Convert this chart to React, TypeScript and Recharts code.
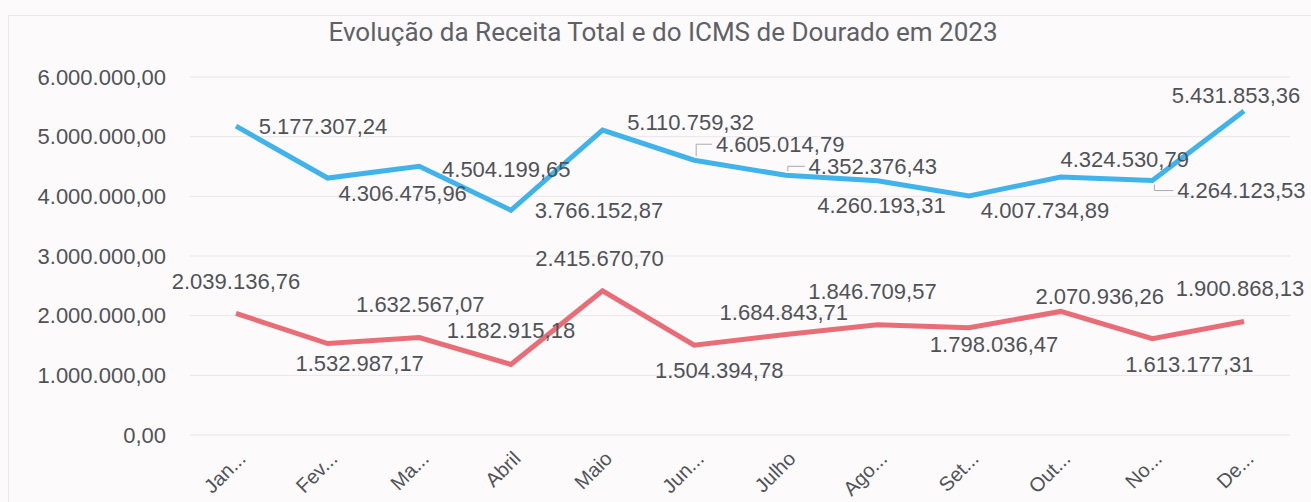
import React from 'react';
import { LineChart, Line, XAxis, YAxis, CartesianGrid, LabelList } from 'recharts';

const months = ['Jan...', 'Fev...', 'Ma...', 'Abril', 'Maio', 'Jun...', 'Julho', 'Ago...', 'Set...', 'Out...', 'No...', 'De...'];

const receitaTotal = [
  5177307.24, 4306475.96, 4504199.65, 3766152.87, 5110759.32, 4605014.79,
  4352376.43, 4260193.31, 4007734.89, 4324530.79, 4264123.53, 5431853.36,
];

const icms = [
  2039136.76, 1532987.17, 1632567.07, 1182915.18, 2415670.7, 1504394.78,
  1684843.71, 1846709.57, 1798036.47, 2070936.26, 1613177.31, 1900868.13,
];

const yTicks = [0, 1000000, 2000000, 3000000, 4000000, 5000000, 6000000];

// label placement (offset of label centre from the point), as in the original
const blueLabelOffsets = [
  [87, 0], [75, 15], [87, 3], [88, 0], [88, -8], [86, -16],
  [87, -9], [4, 25], [76, 15], [64, -17], [89, 10], [-8, -15],
];
const blueLeaders = [5, 6, 10];

const redLabelOffsets = [
  [0, -32], [32, 20], [1, -33], [0, -34], [-3, -32], [25, 25],
  [-2, -22], [-5, -33], [25, 17], [39, -15], [37, 26], [-4, -33],
];

const chartData = months.map((m, i) => ({ mes: m, receita: receitaTotal[i], icms: icms[i] }));

// pt-BR style: 5.177.307,24
const fmt = (v: number) => {
  const [int, dec] = v.toFixed(2).split('.');
  return int.replace(/\B(?=(\d{3})+(?!\d))/g, '.') + ',' + dec;
};

const FONT = '"Liberation Sans", Arial, sans-serif';
const TEXT = '#4f5358';

const makeLabel = (offsets: number[][], leaders: number[]) => (props: any) => {
  const { x, y, value, index } = props;
  const [dx, dy] = offsets[index];
  const cx = x + dx;
  const cy = y + dy;
  return (
    <g>
      {leaders.includes(index) && (
        <polyline
          points={`${x + 2},${y + (dy < 0 ? -4 : 4)} ${x + 2},${cy} ${cx - 68},${cy}`}
          fill="none"
          stroke="#a9a9a9"
          strokeWidth={1}
        />
      )}
      <text
        x={cx}
        y={cy}
        textAnchor="middle"
        dominantBaseline="central"
        fontFamily={FONT}
        fontSize={22}
        fill={TEXT}
      >
        {fmt(value)}
      </text>
    </g>
  );
};

const MonthTick = (props: any) => {
  const { x, y, payload } = props;
  return (
    <g transform={`translate(${x + 6},${y + 18})`}>
      <text
        textAnchor="end"
        dominantBaseline="central"
        transform="rotate(-45)"
        fontFamily={FONT}
        fontSize={20}
        fill={TEXT}
      >
        {payload.value}
      </text>
    </g>
  );
};

export default function App() {
  return (
    <div style={{ position: 'relative', width: 1311, height: 502, background: '#fdfafc', overflow: 'hidden' }}>
      <style>{'body{margin:0}'}</style>
      <div
        style={{
          position: 'absolute', left: 8, top: 15, width: 1303, height: 487,
          borderLeft: '1px solid #ece8ec', borderTop: '1px solid #ece8ec',
        }}
      />
      <div
        style={{
          position: 'absolute', top: 17, left: 0, width: 1326, textAlign: 'center',
          fontFamily: 'Roboto, sans-serif', fontSize: 26, color: '#5e6166',
        }}
      >
        Evolução da Receita Total e do ICMS de Dourado em 2023
      </div>
      <div style={{ position: 'absolute', top: 0, left: 0 }}>
        <LineChart width={1311} height={502} data={chartData} margin={{ top: 77, right: 21, bottom: 0, left: 0 }}>
          <CartesianGrid vertical={false} stroke="#e9e5e9" />
          <XAxis
            dataKey="mes"
            axisLine={false}
            tickLine={false}
            tickSize={0}
            height={67}
            interval={0}
            padding={{ left: 46, right: 46 }}
            tick={<MonthTick />}
          />
          <YAxis
            width={190}
            domain={[0, 6000000]}
            ticks={yTicks}
            axisLine={false}
            tickLine={false}
            tickSize={0}
            tickMargin={24}
            tickFormatter={fmt}
            tick={{ fontFamily: FONT, fontSize: 22, fill: TEXT }}
          />
          <Line
            dataKey="receita"
            stroke="#3fb3ea"
            strokeWidth={5}
            dot={false}
            isAnimationActive={false}
          >
            <LabelList dataKey="receita" content={makeLabel(blueLabelOffsets, blueLeaders)} />
          </Line>
          <Line
            dataKey="icms"
            stroke="#e86d76"
            strokeWidth={5}
            dot={false}
            isAnimationActive={false}
          >
            <LabelList dataKey="icms" content={makeLabel(redLabelOffsets, [])} />
          </Line>
        </LineChart>
      </div>
    </div>
  );
}
